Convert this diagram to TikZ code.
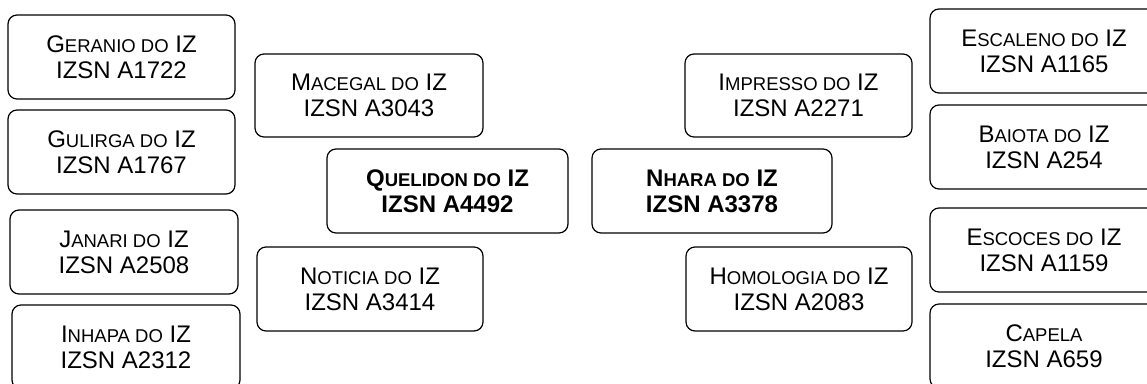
\documentclass[tikz,border=0pt]{standalone}
\usepackage{fontspec}
\setmainfont{Liberation Sans}
\newcommand\smc[1]{{\fontsize{18.5}{26}\selectfont #1}}
\begin{document}
\begin{tikzpicture}[x=1pt,y=1pt,
  box/.style={draw=black, line width=1.2pt, rounded corners=9pt, inner sep=0pt, outer sep=0pt,
    align=center, font=\fontsize{24}{26}\selectfont, minimum height=84pt},
  w227/.style={minimum width=227pt},
  bold/.style={font=\fontsize{24}{26}\selectfont\bfseries}]
\path[use as bounding box, clip] (0,0) rectangle (1147,-383);
\fill[white] (0,0) rectangle (1147,-383);
% left column
\node[box, w227] (geranio) at (121.5,-57) {G\smc{ERANIO DO} IZ\\IZSN A1722};
\node[box, w227] (gulirga) at (121.5,-152) {G\smc{ULIRGA DO} IZ\\IZSN A1767};
\node[box, minimum width=228pt] (janari) at (124,-252) {J\smc{ANARI DO} IZ\\IZSN A2508};
\node[box, minimum width=228pt] (inhapa) at (126,-347) {I\smc{NHAPA DO} IZ\\IZSN A2312};
% middle left
\node[box, minimum width=228pt, minimum height=83pt] (macegal) at (369,-95.5) {M\smc{ACEGAL DO} IZ\\IZSN A3043};
\node[box, bold, minimum width=241pt] (quelidon) at (447.5,-191) {Q\smc{UELIDON DO} IZ\\IZSN A4492};
\node[box, minimum width=226pt] (noticia) at (370,-289) {N\smc{OTICIA DO} IZ\\IZSN A3414};
% middle right
\node[box, w227, minimum height=83pt] (impresso) at (798.5,-95.5) {I\smc{MPRESSO DO} IZ\\IZSN A2271};
\node[box, bold, minimum width=240pt] (nhara) at (712,-191) {N\smc{HARA DO} IZ\\IZSN A3378};
\node[box, minimum width=226pt] (homologia) at (799,-289) {H\smc{OMOLOGIA DO} IZ\\IZSN A2083};
% right column
\node[box, minimum width=228pt] (escaleno) at (1044,-51) {E\smc{SCALENO DO} IZ\\IZSN A1165};
\node[box, minimum width=228pt] (baiota) at (1044,-147) {B\smc{AIOTA DO} IZ\\IZSN A254};
\node[box, minimum width=228pt] (escoces) at (1044,-250) {E\smc{SCOCES DO} IZ\\IZSN A1159};
\node[box, minimum width=228pt] (capela) at (1044,-346) {C\smc{APELA}\\IZSN A659};
\end{tikzpicture}
\end{document}
